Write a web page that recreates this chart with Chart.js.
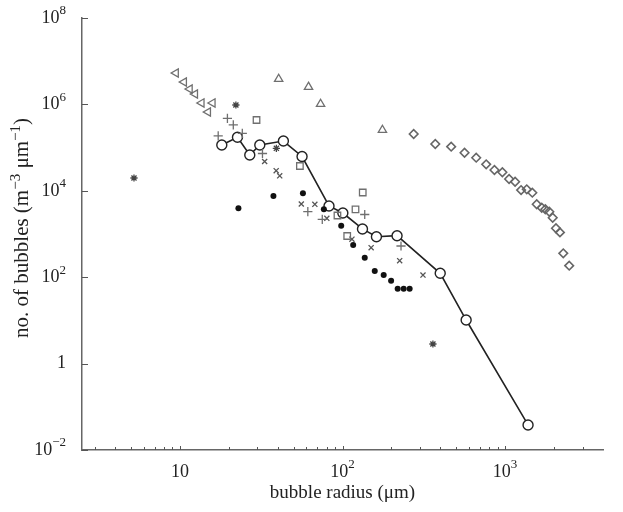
<!DOCTYPE html>
<html>
<head>
<meta charset="utf-8">
<script src="https://cdn.jsdelivr.net/npm/chart.js@4/dist/chart.umd.min.js"></script>
<style>
  html, body { margin: 0; padding: 0; background: #fff; }
</style>
</head>
<body>
<canvas id="dataChart" width="623" height="512"></canvas>
<script>
// bubble size spectra, radius in um, counts in m^-3 um^-1
const meanRadius = [18.1, 22.6, 26.9, 31.0, 43.3, 56.4, 82.6, 100.5, 132.7, 161.7, 216.5, 399, 576, 1384];
const meanCount  = [1.15e5, 1.73e5, 6.74e4, 1.15e5, 1.42e5, 6.22e4, 4.45e3, 3.06e3, 1.31e3, 866, 914, 123, 10.2, 0.038];

const leftTriRadius = [9.45, 10.6, 11.5, 12.4, 13.6, 15.9, 14.9];
const leftTriCount  = [5.33e6, 3.30e6, 2.27e6, 1.74e6, 1.08e6, 1.08e6, 6.67e5];

const upTriRadius = [40.5, 61.8, 73.3, 176];
const upTriCount  = [3.87e6, 2.53e6, 1.02e6, 2.55e5];

const diamondRadius = [274, 372, 466, 563, 664, 765, 860, 962, 1058, 1152, 1254, 1359, 1470, 1565, 1680, 1767, 1870, 1962, 2055, 2174, 2279, 2479];
const diamondCount  = [2.07e5, 1.21e5, 1.05e5, 7.62e4, 5.84e4, 4.10e4, 3.03e4, 2.68e4, 1.88e4, 1.62e4, 1.04e4, 1.08e4, 9.04e3, 4.87e3, 4.06e3, 3.73e3, 3.28e3, 2.38e3, 1.36e3, 1.09e3, 357, 185];

const dotRadius = [22.9, 37.6, 57.1, 76.8, 98.2, 116.3, 137, 157.9, 179.2, 199, 218.4, 237.8, 258.8];
const dotCount  = [3.94e3, 7.58e3, 8.75e3, 3.73e3, 1.55e3, 556, 283, 139, 112, 83, 54.2, 54.2, 54.2];

const squareRadius = [29.6, 54.7, 133.2, 120.2, 93.1, 106.9];
const squareCount  = [4.35e5, 3.75e4, 9.14e3, 3.73e3, 2.68e3, 899];

const plusRadius = [19.6, 21.3, 17.2, 24.2, 32.2, 61.2, 75.1, 137, 229];
const plusCount  = [4.77e5, 3.34e5, 1.86e5, 2.14e5, 7.3e4, 3.28e3, 2.19e3, 2.83e3, 527];

const crossRadius = [33.2, 39.1, 41.1, 55.8, 67.6, 80.1, 114.3, 150, 224.7, 312.6];
const crossCount  = [4.77e4, 2.92e4, 2.22e4, 4.95e3, 4.87e3, 2.31e3, 758, 482, 241, 112];

const starRadius = [5.22, 22.1, 39.2, 359.8];
const starCount  = [1.98e4, 9.69e5, 9.63e4, 2.84];

const xTickValues = [10, 100, 1000];
const xTickLabels = ['10', '10^2', '10^3'];
const yTickValues = [0.01, 1, 100, 1e4, 1e6, 1e8];
const yTickLabels = ['10^−2', '1', '10^2', '10^4', '10^6', '10^8'];
const xMinorValues = [3, 4, 5, 6, 7, 8, 9, 20, 30, 40, 50, 60, 70, 80, 90, 200, 300, 400, 500, 600, 700, 800, 900, 2000, 3000];

const serif = '"Liberation Serif", "Times New Roman", serif';
const textColor = '#222';

function toPoints(xs, ys) {
  return xs.map((x, i) => ({ x: x, y: ys[i] }));
}

function markerSet(xs, ys, style, color, radius, extra) {
  return Object.assign({
    data: toPoints(xs, ys),
    showLine: false,
    pointStyle: style,
    pointRadius: radius,
    pointHoverRadius: radius,
    borderColor: color,
    backgroundColor: 'rgba(0,0,0,0)',
    pointBorderWidth: 1.3,
  }, extra || {});
}

// draws "10^n" with a raised exponent, anchored left/center/right at x
function drawPower(ctx, label, x, y, align) {
  const parts = label.split('^');
  ctx.font = '18px ' + serif;
  const wb = ctx.measureText(parts[0]).width;
  ctx.font = '13px ' + serif;
  const we = parts[1] ? ctx.measureText(parts[1]).width : 0;
  const total = wb + we;
  let left = x;
  if (align === 'center') left = x - total / 2;
  if (align === 'right') left = x - total;
  ctx.textAlign = 'left';
  ctx.textBaseline = 'middle';
  ctx.font = '18px ' + serif;
  ctx.fillText(parts[0], left, y);
  if (parts[1]) {
    ctx.font = '13px ' + serif;
    ctx.fillText(parts[1], left + wb, y - 7);
  }
}

// inward tick marks, power-of-ten labels and the y title
const axisDecor = {
  id: 'axisDecor',
  afterDraw(chart) {
    const ctx = chart.ctx;
    const xs = chart.scales.x;
    const ys = chart.scales.y;
    const area = chart.chartArea;
    ctx.save();
    ctx.strokeStyle = '#555';
    ctx.lineWidth = 1;
    ctx.beginPath();
    xMinorValues.concat(xTickValues).forEach(v => {
      const px = Math.round(xs.getPixelForValue(v)) + 0.5;
      const len = xTickValues.includes(v) ? 4 : 3;
      ctx.moveTo(px, area.bottom);
      ctx.lineTo(px, area.bottom - len);
    });
    yTickValues.forEach(v => {
      const py = Math.round(ys.getPixelForValue(v)) + 0.5;
      ctx.moveTo(area.left, py);
      ctx.lineTo(area.left + 6, py);
    });
    ctx.stroke();

    ctx.fillStyle = textColor;
    xTickValues.forEach((v, i) => {
      drawPower(ctx, xTickLabels[i], xs.getPixelForValue(v), area.bottom + 22, 'center');
    });
    yTickValues.forEach((v, i) => {
      drawPower(ctx, yTickLabels[i], area.left - 16, ys.getPixelForValue(v), 'right');
    });

    // rotated y title with superscript units
    const pieces = [['no. of bubbles (m', false], ['−3', true], [' μm', false], ['−1', true], [')', false]];
    const bigFont = '21px ' + serif;
    const supFont = '15px ' + serif;
    let total = 0;
    pieces.forEach(p => {
      ctx.font = p[1] ? supFont : bigFont;
      total += ctx.measureText(p[0]).width;
    });
    ctx.translate(22, (area.top + area.bottom) / 2 - 6);
    ctx.rotate(-Math.PI / 2);
    ctx.textAlign = 'left';
    ctx.textBaseline = 'middle';
    let pos = -total / 2;
    pieces.forEach(p => {
      ctx.font = p[1] ? supFont : bigFont;
      ctx.fillText(p[0], pos, p[1] ? -6 : 0);
      pos += ctx.measureText(p[0]).width;
    });
    ctx.restore();
  }
};

const ctx = document.getElementById('dataChart').getContext('2d');
const myChart = new Chart(ctx, {
  type: 'scatter',
  data: {
    datasets: [
      markerSet(leftTriRadius, leftTriCount, 'triangle', '#6f6f6f', 4.8, { rotation: -90 }),
      markerSet(upTriRadius, upTriCount, 'triangle', '#6f6f6f', 4.8),
      markerSet(diamondRadius, diamondCount, 'rectRot', '#666', 4.3, { pointBorderWidth: 1.6 }),
      markerSet(squareRadius, squareCount, 'rect', '#6f6f6f', 4.6),
      markerSet(plusRadius, plusCount, 'cross', '#6f6f6f', 4.6),
      markerSet(crossRadius, crossCount, 'crossRot', '#555', 3.6),
      markerSet(starRadius, starCount, 'star', '#444', 3.6),
      markerSet(dotRadius, dotCount, 'circle', '#111', 3, { backgroundColor: '#111', pointBorderWidth: 0 }),
      {
        data: toPoints(meanRadius, meanCount),
        showLine: true,
        borderColor: '#222',
        borderWidth: 1.6,
        pointStyle: 'circle',
        pointRadius: 5,
        pointHoverRadius: 5,
        pointBorderWidth: 1.4,
        pointBorderColor: '#222',
        pointBackgroundColor: '#fff',
        tension: 0,
      },
    ],
  },
  options: {
    responsive: false,
    animation: false,
    events: [],
    layout: { padding: { top: 18, right: 20, left: 0, bottom: 0 } },
    plugins: {
      legend: { display: false },
      tooltip: { enabled: false },
    },
    scales: {
      x: {
        type: 'logarithmic',
        min: 2.5,
        max: 4000,
        afterBuildTicks: scale => { scale.ticks = xTickValues.map(v => ({ value: v })); },
        afterFit: scale => { scale.height = 62; },
        grid: { display: false, drawTicks: false },
        border: { display: true, color: '#666', width: 1.5 },
        ticks: { display: false },
        title: {
          display: true,
          text: 'bubble radius (μm)',
          color: textColor,
          font: { family: serif, size: 19 },
          padding: { top: 0, bottom: 8 },
        },
      },
      y: {
        type: 'logarithmic',
        min: 0.01,
        max: 1e8,
        afterBuildTicks: scale => { scale.ticks = yTickValues.map(v => ({ value: v })); },
        afterFit: scale => { scale.width = 82; },
        grid: { display: false, drawTicks: false },
        border: { display: true, color: '#666', width: 1.5 },
        ticks: { display: false },
        title: { display: false },
      },
    },
  },
  plugins: [axisDecor],
});
</script>
</body>
</html>
